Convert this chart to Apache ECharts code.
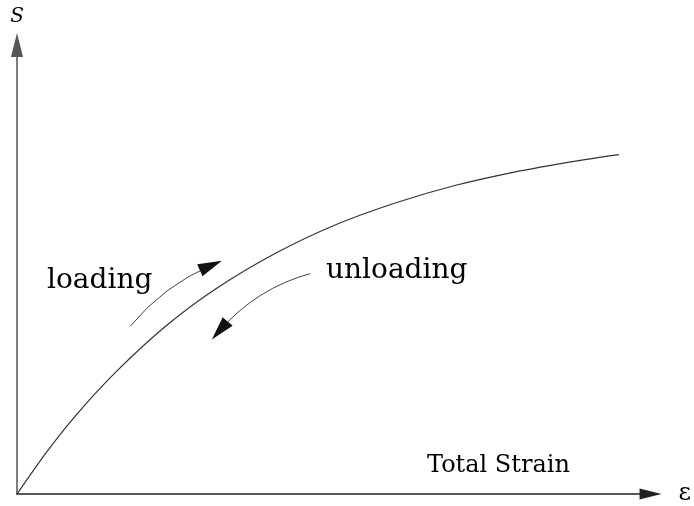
<!DOCTYPE html>
<html>
<head>
<meta charset="utf-8">
<script src="https://cdn.jsdelivr.net/npm/echarts@6/dist/echarts.min.js"></script>
<style>html,body{margin:0;padding:0;background:#fff}#c{width:694px;height:506px}</style>
</head>
<body>
<div id="c"></div>
<script>
// Stress-strain curve (strain on x, stress on y), arbitrary units 0..100
const strain = [0, 4.7, 9.4, 15.7, 23.5, 31.4, 40.8, 50.2, 59.7, 69.1, 78.5, 87.9, 95.0];
const stress = [0, 9.4, 17.7, 27.3, 37.4, 45.7, 53.6, 59.9, 64.8, 68.7, 71.7, 74.1, 75.6];
// Annotation arrows [start, end] in data units
const loadingArrow = [[17.9, 37.4], [30.6, 50.9]];
const unloadingArrow = [[46.3, 49.1], [32.0, 36.4]];
const labels = { loading: 'loading', unloading: 'unloading', xTitle: 'Total Strain', yName: 'S', xName: 'ε' };

const serif = '"DejaVu Serif", "Liberation Serif", serif';
const head = 'path://M10,0 L15.5,20 L4.5,20 Z M0,0 L0.01,0 M20,20 L19.99,20';

const chart = echarts.init(document.getElementById('c'), null, { renderer: 'canvas' });
chart.setOption({
  animation: false,
  backgroundColor: '#fff',
  grid: { left: 17, right: 40, top: 45, bottom: 9, containLabel: false },
  xAxis: {
    type: 'value', min: 0, max: 100,
    name: labels.xName, nameLocation: 'end', nameGap: 28,
    nameTextStyle: { fontFamily: serif, fontSize: 24, color: '#000', verticalAlign: 'middle' },
    axisLine: { show: true, symbol: ['none', 'triangle'], symbolSize: [11, 22], lineStyle: { color: '#222', width: 1.5 } },
    axisTick: { show: false }, axisLabel: { show: false }, splitLine: { show: false }
  },
  yAxis: {
    type: 'value', min: 0, max: 100,
    name: labels.yName, nameLocation: 'end', nameGap: 18,
    nameTextStyle: { fontFamily: serif, fontStyle: 'italic', fontSize: 20, color: '#000', align: 'center' },
    axisLine: { show: true, symbol: ['none', 'triangle'], symbolSize: [12, 24], lineStyle: { color: '#555', width: 1.5 } },
    axisTick: { show: false }, axisLabel: { show: false }, splitLine: { show: false }
  },
  series: [
    {
      type: 'line', smooth: 0.3, showSymbol: false,
      data: strain.map((x, i) => [x, stress[i]]),
      lineStyle: { color: '#333', width: 1.2 }
    },
    {
      type: 'lines', coordinateSystem: 'cartesian2d',
      symbol: ['none', head], symbolSize: 24,
      lineStyle: { color: '#111', width: 0.8, curveness: 0.12, opacity: 1 },
      data: [{ coords: loadingArrow }]
    },
    {
      type: 'lines', coordinateSystem: 'cartesian2d',
      symbol: ['none', head], symbolSize: 24,
      lineStyle: { color: '#111', width: 0.8, curveness: -0.15, opacity: 1 },
      data: [{ coords: unloadingArrow }]
    }
  ],
  graphic: [
    { type: 'text', left: 47, top: 267, style: { text: labels.loading, font: '28px ' + serif, fill: '#000' } },
    { type: 'text', left: 326, top: 257, style: { text: labels.unloading, font: '28px ' + serif, fill: '#000' } },
    { type: 'text', left: 427, top: 454, style: { text: labels.xTitle, font: '24px ' + serif, fill: '#000' } }
  ]
});
</script>
</body>
</html>
